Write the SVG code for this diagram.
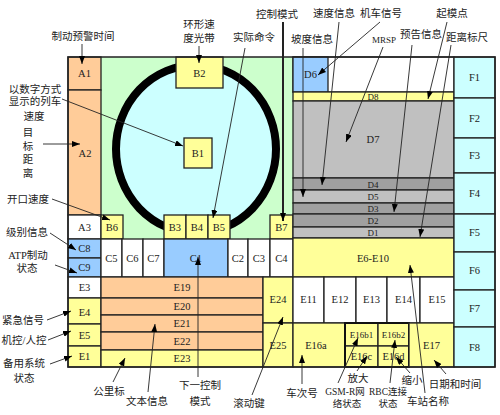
<svg xmlns="http://www.w3.org/2000/svg" width="500" height="415" viewBox="0 0 500 415">
<defs>
<marker id="ah" markerWidth="8" markerHeight="6" refX="8" refY="3" orient="auto" markerUnits="userSpaceOnUse"><path d="M0,0 L8,3 L0,6 z" fill="#000"/></marker>
<style>
.c{stroke:#222;stroke-width:1.3}
.or{fill:#ffcc99}.ye{fill:#ffff99}.bl{fill:#99ccff}.wh{fill:#fff}.cy{fill:#ccffff}.gr{fill:#c0c0c0}.dg{fill:#a0a0a0}
.t{font-family:"Liberation Serif",serif;font-size:10.5px;fill:#222;text-anchor:middle}
.s{font-size:9px}
.l{font-family:"Liberation Serif","Noto Sans CJK SC",sans-serif;font-size:10.5px;fill:#222;text-anchor:middle}
.n{font-size:9.5px}
.cn line{stroke:#222;stroke-width:0.9;marker-end:url(#ah)}
</style>
</defs>
<rect width="500" height="415" fill="#fff"/>
<g id="bg-green"><rect x="101" y="57" width="192" height="182" fill="#ccffcc"/></g>
<g id="ring"><ellipse cx="196" cy="149" rx="80" ry="84" fill="#ccffff" stroke="#000" stroke-width="8"/></g>
<g id="A1"><rect class="c or" x="68" y="57" width="33" height="33"/><text class="t" x="84.5" y="77">A1</text></g>
<g id="A2"><rect class="c or" x="68" y="90" width="33" height="125"/><text class="t" x="85" y="157">A2</text></g>
<g id="A3"><rect class="c wh" x="68" y="215" width="33" height="24"/><text class="t" x="84.5" y="231">A3</text></g>
<g id="C8"><rect class="c bl" x="68" y="239" width="33" height="19"/><text class="t" x="84.5" y="252">C8</text></g>
<g id="C9"><rect class="c bl" x="68" y="258" width="33" height="19"/><text class="t" x="84.5" y="271">C9</text></g>
<g id="E3"><rect class="c wh" x="68" y="277" width="33" height="21"/><text class="t" x="84.5" y="291">E3</text></g>
<g id="E4"><rect class="c ye" x="68" y="298" width="33" height="26"/><text class="t" x="84.5" y="316">E4</text></g>
<g id="E5"><rect class="c ye" x="68" y="324" width="33" height="22"/><text class="t" x="84.5" y="339">E5</text></g>
<g id="E1"><rect class="c ye" x="68" y="346" width="33" height="21"/><text class="t" x="84.5" y="360">E1</text></g>
<g id="B2"><rect class="c ye" x="176" y="57" width="47" height="31"/><text class="t" x="199.5" y="77">B2</text></g>
<g id="B1"><rect class="c ye" x="184" y="138" width="28" height="30"/><text class="t" x="198" y="157">B1</text></g>
<g id="B6"><rect class="c ye" x="101" y="215" width="22" height="24"/><text class="t" x="112" y="231">B6</text></g>
<g id="B3"><rect class="c ye" x="164" y="215" width="22" height="24"/><text class="t" x="175" y="231">B3</text></g>
<g id="B4"><rect class="c ye" x="186" y="215" width="22" height="24"/><text class="t" x="197" y="231">B4</text></g>
<g id="B5"><rect class="c ye" x="208" y="215" width="22" height="24"/><text class="t" x="219" y="231">B5</text></g>
<g id="B7"><rect class="c ye" x="270" y="215" width="23" height="24"/><text class="t" x="281.5" y="231">B7</text></g>
<g id="C5"><rect class="c wh" x="101" y="239" width="21" height="38"/><text class="t" x="111.5" y="262">C5</text></g>
<g id="C6"><rect class="c wh" x="122" y="239" width="21" height="38"/><text class="t" x="132.5" y="262">C6</text></g>
<g id="C7"><rect class="c wh" x="143" y="239" width="21" height="38"/><text class="t" x="153.5" y="262">C7</text></g>
<g id="C1"><rect class="c bl" x="164" y="239" width="64" height="38"/><text class="t" x="196" y="262">C1</text></g>
<g id="C2"><rect class="c wh" x="228" y="239" width="20" height="38"/><text class="t" x="238" y="262">C2</text></g>
<g id="C3"><rect class="c wh" x="248" y="239" width="22" height="38"/><text class="t" x="259" y="262">C3</text></g>
<g id="C4"><rect class="c wh" x="270" y="239" width="23" height="38"/><text class="t" x="281.5" y="262">C4</text></g>
<g id="E19"><rect class="c or" x="101" y="277" width="162" height="21"/><text class="t" x="182" y="291">E19</text></g>
<g id="E20"><rect class="c or" x="101" y="298" width="162" height="17"/><text class="t" x="182" y="310">E20</text></g>
<g id="E21"><rect class="c or" x="101" y="315" width="162" height="17"/><text class="t" x="182" y="327">E21</text></g>
<g id="E22"><rect class="c or" x="101" y="332" width="162" height="18"/><text class="t" x="182" y="345">E22</text></g>
<g id="E23"><rect class="c ye" x="101" y="350" width="162" height="17"/><text class="t" x="182" y="362">E23</text></g>
<g id="E24"><rect class="c ye" x="263" y="277" width="30" height="46"/><text class="t" x="278" y="303">E24</text></g>
<g id="E25"><rect class="c ye" x="263" y="323" width="30" height="44"/><text class="t" x="278" y="349">E25</text></g>
<g id="D-top"><rect class="c wh" x="293" y="57" width="161" height="35"/></g>
<g id="D6"><rect class="c bl" x="293" y="57" width="35" height="35"/><text class="t" x="310.5" y="78">D6</text></g>
<g id="D8"><rect class="c ye" x="293" y="92" width="161" height="9"/><text class="t s" x="373" y="100">D8</text></g>
<g id="D7"><rect class="c gr" x="293" y="101" width="161" height="77"/><text class="t" x="373" y="143">D7</text></g>
<g id="D4"><rect class="c dg" x="293" y="178" width="161" height="12"/><text class="t s" x="373" y="187.5">D4</text></g>
<g id="D5"><rect class="c gr" x="293" y="190" width="161" height="13"/><text class="t s" x="373" y="200">D5</text></g>
<g id="D3"><rect class="c dg" x="293" y="203" width="161" height="11"/><text class="t s" x="373" y="212">D3</text></g>
<g id="D2"><rect class="c dg" x="293" y="214" width="161" height="13"/><text class="t s" x="373" y="224">D2</text></g>
<g id="D1"><rect class="c gr" x="293" y="227" width="161" height="11"/><text class="t s" x="373" y="236">D1</text></g>
<g id="E6-E10"><rect class="c ye" x="293" y="238" width="161" height="39"/><text class="t" x="373" y="262">E6-E10</text></g>
<g id="E11"><rect class="c wh" x="293" y="277" width="31" height="46"/><text class="t" x="308.5" y="303">E11</text></g>
<g id="E12"><rect class="c wh" x="324" y="277" width="32" height="46"/><text class="t" x="340" y="303">E12</text></g>
<g id="E13"><rect class="c wh" x="356" y="277" width="31" height="46"/><text class="t" x="371.5" y="303">E13</text></g>
<g id="E14"><rect class="c wh" x="387" y="277" width="33" height="46"/><text class="t" x="403.5" y="303">E14</text></g>
<g id="E15"><rect class="c wh" x="420" y="277" width="34" height="46"/><text class="t" x="437" y="303">E15</text></g>
<g id="E16a"><rect class="c ye" x="293" y="323" width="52" height="44"/><text class="t" x="316" y="349">E16a</text></g>
<g id="E16b1"><rect class="c ye" x="345" y="323" width="33" height="23"/><text class="t s" x="361.5" y="338">E16b1</text></g>
<g id="E16c"><rect class="c ye" x="345" y="346" width="33" height="21"/><text class="t" x="361.5" y="360">E16c</text></g>
<g id="E16b2"><rect class="c ye" x="378" y="323" width="31" height="23"/><text class="t s" x="393.5" y="338">E16b2</text></g>
<g id="E16d"><rect class="c ye" x="378" y="346" width="31" height="21"/><text class="t" x="393.5" y="360">E16d</text></g>
<g id="E16b-frame"><rect x="345" y="323" width="64" height="44" fill="none" stroke="#111" stroke-width="2"/></g>
<g id="E17"><rect class="c ye" x="409" y="323" width="45" height="44"/><text class="t" x="431.5" y="349">E17</text></g>
<g id="F1"><rect class="c cy" x="454" y="57" width="41" height="41"/><text class="t" x="474.5" y="81">F1</text></g>
<g id="F2"><rect class="c cy" x="454" y="98" width="41" height="40"/><text class="t" x="474.5" y="122">F2</text></g>
<g id="F3"><rect class="c cy" x="454" y="138" width="41" height="35"/><text class="t" x="474.5" y="159">F3</text></g>
<g id="F4"><rect class="c cy" x="454" y="173" width="41" height="41"/><text class="t" x="474.5" y="197">F4</text></g>
<g id="F5"><rect class="c cy" x="454" y="214" width="41" height="38"/><text class="t" x="474.5" y="236">F5</text></g>
<g id="F6"><rect class="c cy" x="454" y="252" width="41" height="38"/><text class="t" x="474.5" y="274">F6</text></g>
<g id="F7"><rect class="c cy" x="454" y="290" width="41" height="37"/><text class="t" x="474.5" y="312">F7</text></g>
<g id="F8"><rect class="c cy" x="454" y="327" width="41" height="40"/><text class="t" x="474.5" y="351">F8</text></g>
<g id="frame"><rect x="68" y="57" width="427" height="310" fill="none" stroke="#222" stroke-width="1.5"/></g>
<g id="labels">
<text class="l" x="83" y="40">制动预警时间</text>
<text class="l" x="199" y="28">环形速</text>
<text class="l" x="199" y="42">度光带</text>
<text class="l" x="254" y="41">实际命令</text>
<text class="l" x="277" y="18">控制模式</text>
<text class="l" x="334" y="17">速度信息</text>
<text class="l" x="381" y="17">机车信号</text>
<text class="l" x="452" y="17">起模点</text>
<text class="l" x="312" y="43">坡度信息</text>
<text class="l" x="384" y="43" style="font-size:9px">MRSP</text>
<text class="l" x="421" y="38">预告信息</text>
<text class="l" x="467" y="41">距离标尺</text>
<text class="l" x="35" y="93">以数字方式</text>
<text class="l" x="35" y="105">显示的列车</text>
<text class="l" x="34" y="120">速度</text>
<text class="l" x="28" y="136">目</text>
<text class="l" x="28" y="150">标</text>
<text class="l" x="28" y="163">距</text>
<text class="l" x="28" y="177">离</text>
<text class="l" x="28" y="203">开口速度</text>
<text class="l" x="27" y="236">级别信息</text>
<text class="l" x="28" y="259">ATP制动</text>
<text class="l" x="27" y="272">状态</text>
<text class="l" x="23" y="324">紧急信号</text>
<text class="l" x="24" y="344">机控/人控</text>
<text class="l" x="24" y="367">备用系统</text>
<text class="l" x="24" y="382">状态</text>
<text class="l" x="109" y="395">公里标</text>
<text class="l" x="147" y="405">文本信息</text>
<text class="l" x="200" y="389">下一控制</text>
<text class="l" x="200" y="405">模式</text>
<text class="l" x="249" y="407">滚动键</text>
<text class="l" x="302" y="397">车次号</text>
<text class="l n" x="345" y="395">GSM-R网</text>
<text class="l n" x="347" y="407">络状态</text>
<text class="l" x="358" y="382">放大</text>
<text class="l n" x="388" y="395">RBC连接</text>
<text class="l n" x="388" y="407">状态</text>
<text class="l" x="412" y="384">缩小</text>
<text class="l" x="428" y="405">车站名称</text>
<text class="l" x="455" y="388">日期和时间</text>
</g>
<g id="connectors" class="cn">
<line x1="82" y1="44" x2="82" y2="64"/>
<line x1="199" y1="46" x2="199" y2="63"/>
<line x1="62" y1="99" x2="183" y2="146"/>
<line x1="43" y1="144" x2="80" y2="144"/>
<line x1="52" y1="199" x2="110" y2="220"/>
<line x1="50" y1="233" x2="76" y2="250"/>
<line x1="55" y1="265" x2="77" y2="273"/>
<line x1="245" y1="48" x2="213" y2="218"/>
<line x1="283" y1="22" x2="283" y2="221" style="stroke-width:2"/>
<line x1="339" y1="22" x2="322" y2="185"/>
<line x1="380" y1="22" x2="318" y2="75"/>
<line x1="303" y1="48" x2="303" y2="197"/>
<line x1="383" y1="47" x2="346" y2="142"/>
<line x1="412" y1="45" x2="394" y2="212"/>
<line x1="451" y1="45" x2="420" y2="237"/>
<line x1="447" y1="22" x2="428" y2="99"/>
<line x1="47" y1="320" x2="71" y2="311"/>
<line x1="48" y1="340" x2="71" y2="331"/>
<line x1="50" y1="364" x2="72" y2="356"/>
<line x1="113" y1="382" x2="125" y2="358"/>
<line x1="148" y1="392" x2="155" y2="324"/>
<line x1="198" y1="377" x2="198" y2="257"/>
<line x1="252" y1="395" x2="283" y2="317"/>
<line x1="302" y1="384" x2="302" y2="355"/>
<line x1="338" y1="383" x2="358" y2="338"/>
<line x1="357" y1="371" x2="367" y2="356"/>
<line x1="390" y1="383" x2="395" y2="340"/>
<line x1="410" y1="373" x2="396" y2="357"/>
<line x1="425" y1="393" x2="410" y2="265"/>
<line x1="446" y1="374" x2="434" y2="360"/>
</g>
</svg>
